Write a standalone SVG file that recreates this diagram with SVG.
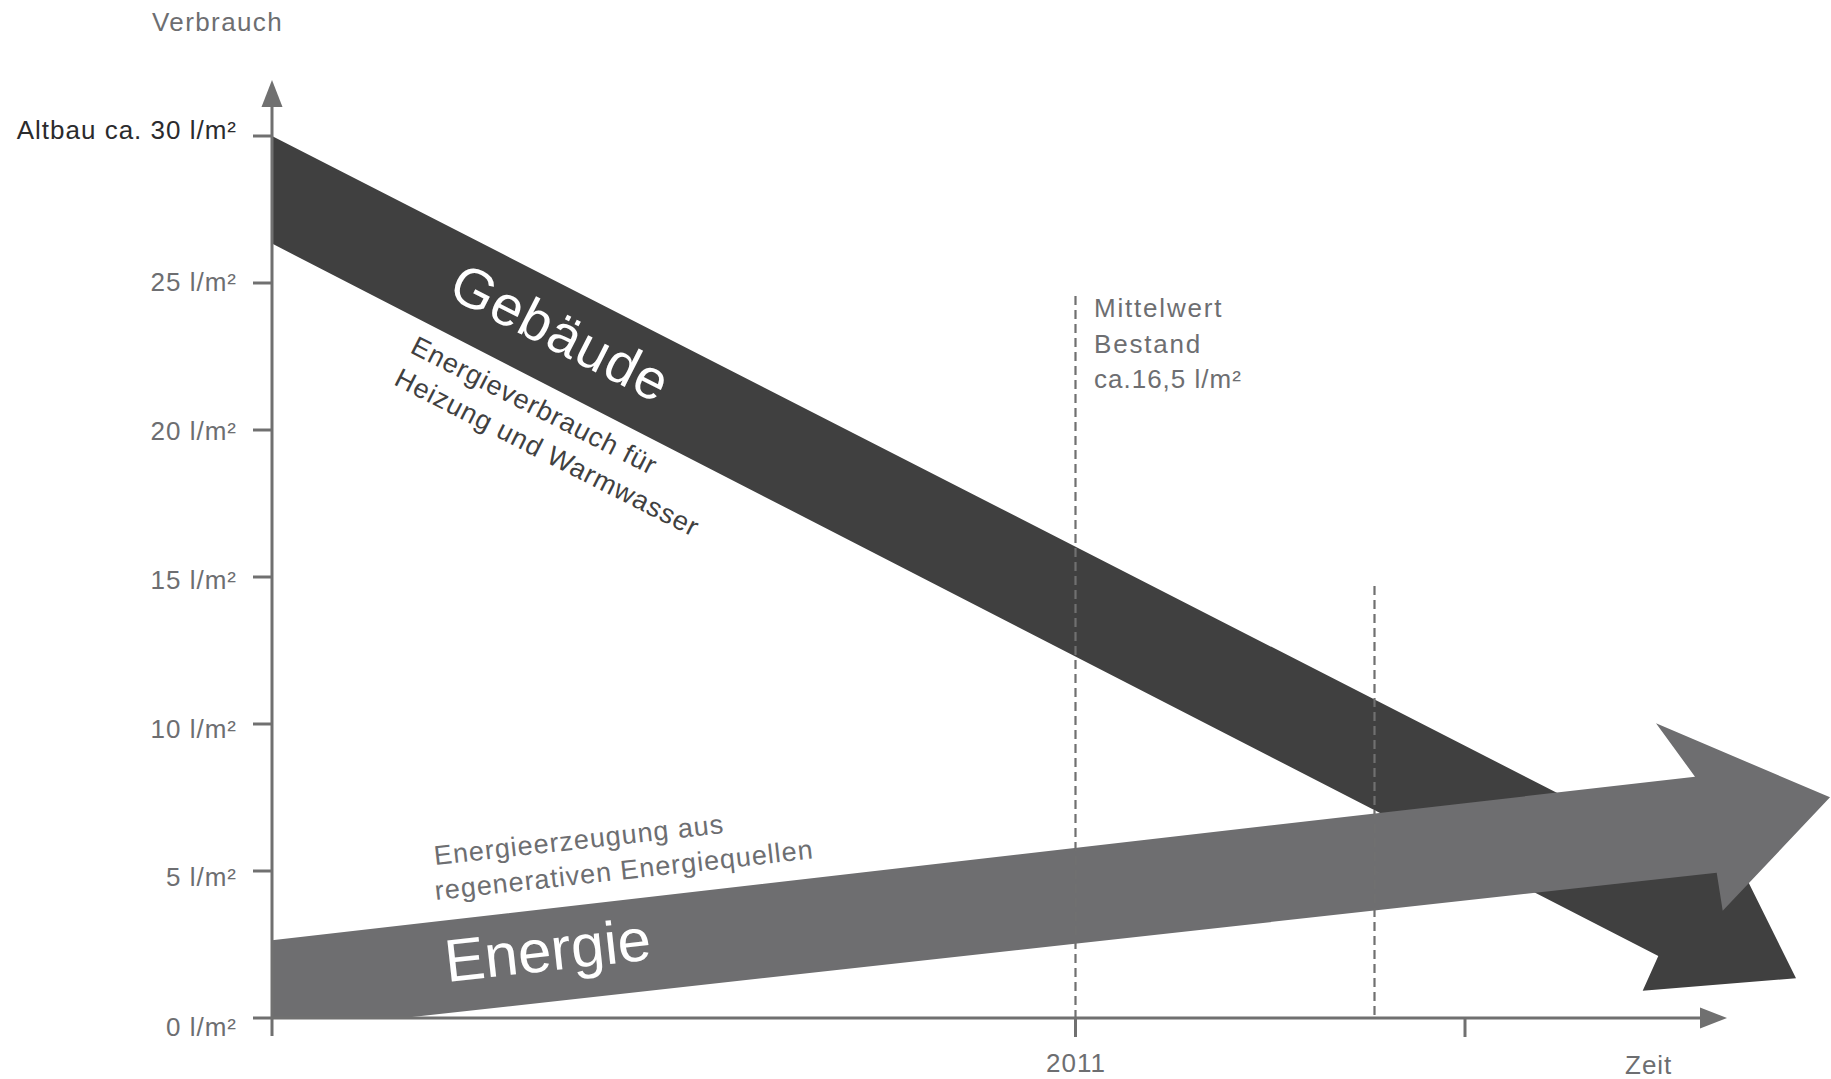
<svg xmlns="http://www.w3.org/2000/svg" width="1831" height="1079" viewBox="0 0 1831 1079">
<style>
text{font-family:"Liberation Sans",Arial,sans-serif}
.lbl{font-size:26px;fill:#6d6e71;letter-spacing:1px}
.axis{stroke:#707070;stroke-width:3;fill:none}
.dash{stroke:#707070;stroke-width:2.2;stroke-dasharray:9 5;fill:none}
.big{font-size:56px;fill:#ffffff;letter-spacing:1px}
.rot{font-size:27px;letter-spacing:1px}
</style>
<rect width="1831" height="1079" fill="#ffffff"/>
<g id="band-gebaeude">
<polygon points="272,136 1708,870 1726,837 1796,978.3 1642.7,990.7 1658.3,956 272,243.6" fill="#404040"/>
<text class="big" transform="translate(446,296) rotate(27)">Gebäude</text>
</g>
<g id="band-energie">
<polygon points="272,940.3 1695,776.7 1656,723.3 1830,797.3 1722.7,910.7 1716.7,872.7 403,1018 272,1018" fill="#6e6e70"/>
<text transform="translate(447,982) rotate(-6.3)" style="font-size:60px;fill:#ffffff">Energie</text>
</g>
<g id="connectors">
<line class="dash" x1="1075.5" y1="296" x2="1075.5" y2="1018"/>
<line class="dash" x1="1374.5" y1="586" x2="1374.5" y2="1018"/>
</g>
<g id="axes">
<line class="axis" x1="272" y1="1036" x2="272" y2="104"/>
<polygon points="272,80 261.5,107 282.5,107" fill="#707070"/>
<line class="axis" x1="253" y1="1018" x2="1703" y2="1018"/>
<polygon points="1727,1018 1700,1007.5 1700,1028.5" fill="#707070"/>
<line class="axis" x1="253" y1="136" x2="272" y2="136"/>
<line class="axis" x1="253" y1="283" x2="272" y2="283"/>
<line class="axis" x1="253" y1="430" x2="272" y2="430"/>
<line class="axis" x1="253" y1="577" x2="272" y2="577"/>
<line class="axis" x1="253" y1="724" x2="272" y2="724"/>
<line class="axis" x1="253" y1="871" x2="272" y2="871"/>
<line class="axis" x1="1075.5" y1="1018" x2="1075.5" y2="1037"/>
<line class="axis" x1="1465" y1="1018" x2="1465" y2="1037"/>
</g>
<g id="labels">
<text class="lbl" x="152" y="31" style="letter-spacing:1.4px">Verbrauch</text>
<text class="lbl" x="237" y="139" text-anchor="end" style="fill:#2b2b2d">Altbau ca. 30 l/m²</text>
<text class="lbl" x="237" y="291" text-anchor="end">25 l/m²</text>
<text class="lbl" x="237" y="440" text-anchor="end">20 l/m²</text>
<text class="lbl" x="237" y="589" text-anchor="end">15 l/m²</text>
<text class="lbl" x="237" y="738" text-anchor="end">10 l/m²</text>
<text class="lbl" x="237" y="886" text-anchor="end">5 l/m²</text>
<text class="lbl" x="237" y="1036" text-anchor="end">0 l/m²</text>
<text class="lbl" x="1076" y="1072" text-anchor="middle">2011</text>
<text class="lbl" x="1625" y="1074">Zeit</text>
<text class="lbl" x="1094" y="317" style="letter-spacing:1.8px">Mittelwert</text>
<text class="lbl" x="1094" y="353" style="letter-spacing:1.8px">Bestand</text>
<text class="lbl" x="1094" y="388">ca.16,5 l/m²</text>
<text class="rot" transform="translate(409,352) rotate(27)" fill="#404040"><tspan x="0" y="0">Energieverbrauch für</tspan><tspan x="0" y="36">Heizung und Warmwasser</tspan></text>
<text class="rot" transform="translate(435,865) rotate(-6.3)" fill="#6d6e71"><tspan x="0" y="0">Energieerzeugung aus</tspan><tspan x="-3" y="35">regenerativen Energiequellen</tspan></text>
</g>
</svg>
